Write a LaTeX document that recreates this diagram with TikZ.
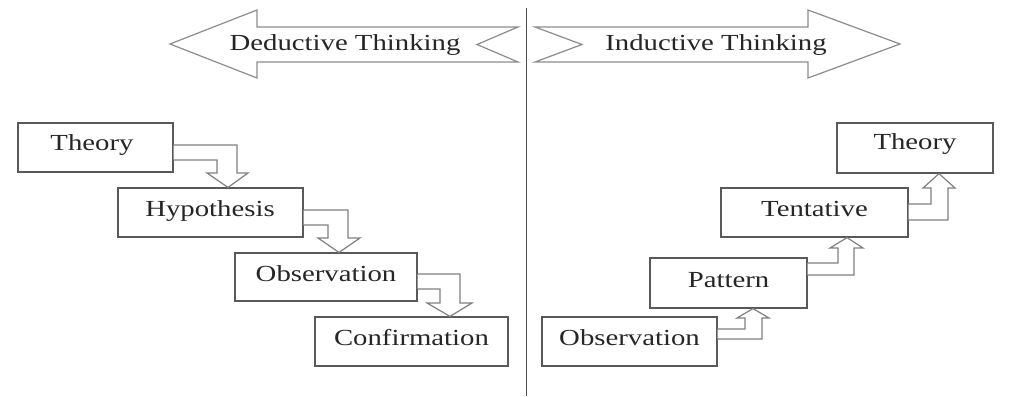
\documentclass[tikz,border=0pt]{standalone}
\usepackage{fontspec}
\usepackage{graphicx}
\setmainfont{Liberation Serif}
\newcommand\wtxt[1]{\scalebox{1.25}[1]{#1}}
\begin{document}
\begin{tikzpicture}[x=1pt,y=-1pt,
  boxnode/.style={draw=black!65, line width=1.2pt, fill=white, rectangle, inner sep=0pt, text=black!80,
     font=\fontsize{22.5}{26}\selectfont},
  hollow/.style={draw=black!50, line width=1.2pt, fill=white, line join=miter},
  bigarrow/.style={draw=black!45, line width=1.2pt, fill=white},
  lbl/.style={text=black!85, font=\fontsize{23}{26}\selectfont, inner sep=0pt}]
\useasboundingbox[fill=white] (0,0) rectangle (1027,396);
% divider
\draw[line width=1pt, black!70] (526,8) -- (526,396);
% big arrows
\draw[bigarrow] (170,44) -- (257,10) -- (257,27) -- (518,27) -- (477,44.5) -- (518,62) -- (257,62) -- (257,78) -- cycle;
\node[lbl] (ded) at (345,45) {\wtxt{Deductive Thinking}};
\draw[bigarrow] (535,27) -- (808,27) -- (808,10) -- (900,44) -- (808,78) -- (808,62) -- (535,62) -- (582,44.5) -- cycle;
\node[lbl] (ind) at (716,45) {\wtxt{Inductive Thinking}};
% left boxes
\node[boxnode, minimum width=155pt, minimum height=49pt] (lT) at (95.5,147.5) {};
\node[lbl] at (92,145) {\wtxt{Theory}};
\node[boxnode, minimum width=185pt, minimum height=49pt] (lH) at (210.5,212.5) {};
\node[lbl] at (210,211) {\wtxt{Hypothesis}};
\node[boxnode, minimum width=182pt, minimum height=48pt] (lO) at (326,277) {};
\node[lbl] at (326,274) {\wtxt{Observation}};
\node[boxnode, minimum width=193pt, minimum height=49pt] (lC) at (411.5,341.5) {};
\node[lbl] at (411.5,338) {\wtxt{Confirmation}};
% left connectors
\draw[hollow] (lT.east |- 0,145) -- (237,145) -- (237,173) -- (248,173) -- (lH.north -| 228,0) -- (207,173) -- (217,173) -- (217,160) -- (lT.east |- 0,160);
\draw[hollow] (lH.east |- 0,210) -- (348,210) -- (348,238) -- (360,238) -- (lO.north -| 339,0) -- (318,238) -- (328,238) -- (328,225) -- (lH.east |- 0,225);
\draw[hollow] (lO.east |- 0,274) -- (460,274) -- (460,303) -- (472,303) -- (lC.north -| 450,0) -- (427,303) -- (440,303) -- (440,289) -- (lO.east |- 0,289);
% right boxes
\node[boxnode, minimum width=175pt, minimum height=49pt] (rO) at (629.5,341.5) {};
\node[lbl] at (629.5,338) {\wtxt{Observation}};
\node[boxnode, minimum width=157pt, minimum height=50pt] (rP) at (728.5,283) {};
\node[lbl] at (728.5,280) {\wtxt{Pattern}};
\node[boxnode, minimum width=187pt, minimum height=49pt] (rT) at (814.5,212.5) {};
\node[lbl] at (814.5,209) {\wtxt{Tentative}};
\node[boxnode, minimum width=156pt, minimum height=50pt] (rH) at (915,148) {};
\node[lbl] at (915,144) {\wtxt{Theory}};
% right connectors
\draw[hollow] (rO.east |- 0,329) -- (745,329) -- (745,318) -- (737,318) -- (rP.south -| 753,0) -- (769,318) -- (762,318) -- (762,339) -- (rO.east |- 0,339);
\draw[hollow] (rP.east |- 0,263) -- (838,263) -- (838,248) -- (830,248) -- (rT.south -| 847,0) -- (863,248) -- (854,248) -- (854,275) -- (rP.east |- 0,275);
\draw[hollow] (rT.east |- 0,204) -- (931,204) -- (931,188) -- (923,188) -- (rH.south -| 939,0) -- (955,188) -- (948,188) -- (948,220) -- (rT.east |- 0,220);
\end{tikzpicture}
\end{document}
